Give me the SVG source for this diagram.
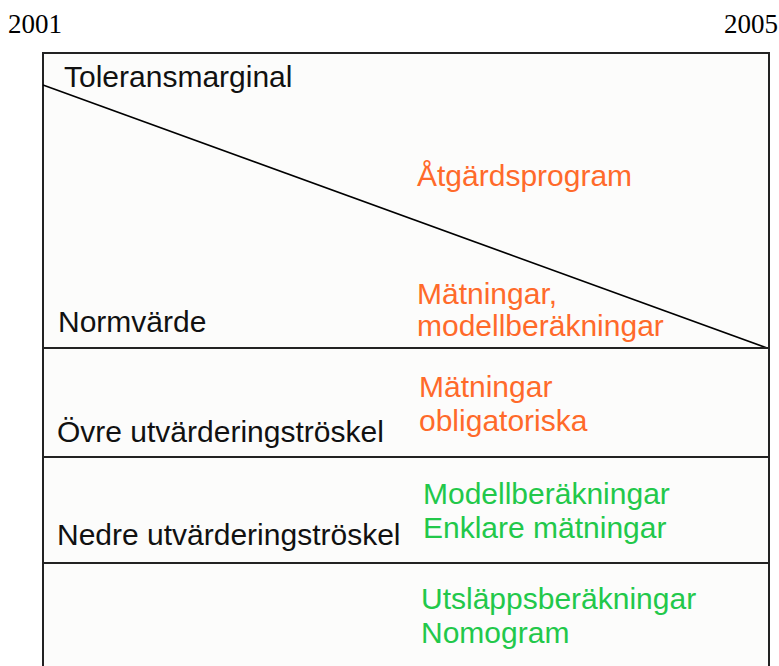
<svg xmlns="http://www.w3.org/2000/svg" width="779" height="666" viewBox="0 0 779 666">
<style>
.yr{font-family:"Liberation Serif","Times New Roman",serif;font-size:27px;fill:#000}
.lbl{font-family:"Liberation Sans",Arial,sans-serif;font-size:30px;fill:#111}
.or{font-family:"Liberation Sans",Arial,sans-serif;font-size:30px;fill:#ff6a2a}
.gr{font-family:"Liberation Sans",Arial,sans-serif;font-size:30px;fill:#22c84a}
.ln{stroke:#222;stroke-width:2;fill:none}
</style>
<rect width="779" height="666" fill="#fff"/>
<g id="years">
<text class="yr" x="8" y="33">2001</text>
<text class="yr" x="778" y="33" text-anchor="end">2005</text>
</g>
<g id="frame">
<rect x="43" y="53" width="726" height="620" fill="#fcfcfb"/>
<path class="ln" d="M43,667 V53 H769 V667"/>
</g>
<g id="connectors">
<line x1="43" y1="85" x2="767" y2="348" stroke="#000" stroke-width="1.6"/>
<line class="ln" x1="43" y1="348" x2="769" y2="348"/>
<line class="ln" x1="43" y1="457" x2="769" y2="457"/>
<line class="ln" x1="43" y1="563" x2="769" y2="563"/>
</g>
<g id="zone1">
<text class="lbl" x="64" y="87">Toleransmarginal</text>
<text class="or" x="417" y="186">Åtgärdsprogram</text>
</g>
<g id="zone2">
<text class="lbl" x="58" y="332">Normvärde</text>
<text class="or" x="417" y="304">Mätningar,</text>
<text class="or" x="417" y="336">modellberäkningar</text>
</g>
<g id="zone3">
<text class="lbl" x="57" y="442">Övre utvärderingströskel</text>
<text class="or" x="419" y="397">Mätningar</text>
<text class="or" x="419" y="431">obligatoriska</text>
</g>
<g id="zone4">
<text class="lbl" x="57" y="545">Nedre utvärderingströskel</text>
<text class="gr" x="423" y="504">Modellberäkningar</text>
<text class="gr" x="423" y="538">Enklare mätningar</text>
</g>
<g id="zone5">
<text class="gr" x="421" y="609">Utsläppsberäkningar</text>
<text class="gr" x="421" y="643">Nomogram</text>
</g>
</svg>
